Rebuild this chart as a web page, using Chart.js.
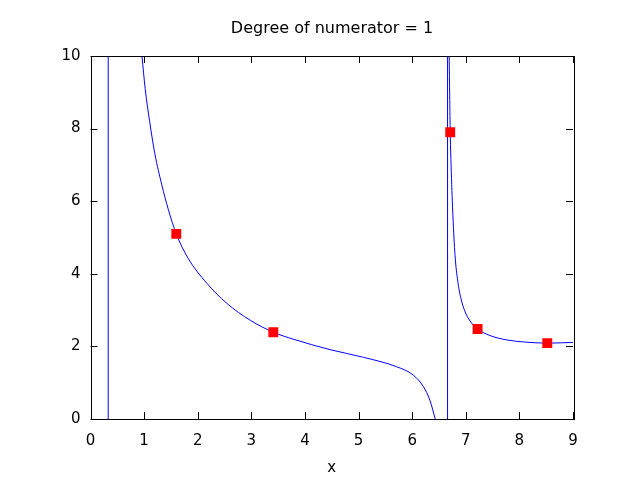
<!DOCTYPE html>
<html>
<head>
<meta charset="utf-8">
<script src="https://cdn.jsdelivr.net/npm/chart.js@4"></script>
<style>
    html, body { margin: 0; padding: 0; background: #fff; }
    #wrap { width: 640px; height: 480px; }
</style>
</head>
<body>
<div id="wrap"><canvas id="plot" width="640" height="480"></canvas></div>
<script>
//Data
//branch between the two poles
let leftX = [0.96, 1.02, 1.10, 1.20, 1.33, 1.45, 1.60, 1.82, 2.17, 2.54, 2.98, 3.41, 3.78, 4.47, 5.09, 5.71, 6.02, 6.21, 6.33, 6.43];
let leftY = [10, 9.1, 8.23, 7.31, 6.45, 5.78, 5.1, 4.43, 3.74, 3.19, 2.72, 2.39, 2.20, 1.91, 1.70, 1.44, 1.21, 0.89, 0.52, 0];
//branch right of the second pole
let rightX = [6.69, 6.70, 6.71, 6.73, 6.76, 6.80, 6.85, 6.91, 6.98, 7.08, 7.22, 7.45, 7.76, 8.10, 8.52, 9.0];
let rightY = [10, 8.9, 7.9, 6.8, 5.6, 4.5, 3.8, 3.32, 2.98, 2.70, 2.48, 2.30, 2.18, 2.12, 2.09, 2.11];
//jumps across the poles
let poleX = [0.33, 6.66];
let poleY = [0, 10];
//interpolated points (red squares)
let markX = [1.6, 3.41, 6.71, 7.22, 8.52];
let markY = [5.10, 2.39, 7.90, 2.48, 2.09];
//ticks
let xTicks = [0, 1, 2, 3, 4, 5, 6, 7, 8, 9];
let yTicks = [0, 2, 4, 6, 8, 10];

const FONT = 'DejaVu Sans';
const BLUE = '#0000ff';
const RED = '#ff0000';

function pairs(xs, ys) {
    return xs.map((x, i) => ({x: x, y: ys[i]}));
}

function polePoints() {
    let pts = [];
    poleX.forEach((x, i) => {
        if (i > 0) pts.push({x: x, y: null});
        poleY.forEach(y => pts.push({x: x, y: y}));
    });
    return pts;
}

//gnuplot style frame with inward ticks on all four sides
const frame = {
    id: 'frame',
    afterDraw(chart) {
        const {ctx, chartArea: a, scales} = chart;
        const len = 7;
        ctx.save();
        ctx.strokeStyle = '#000';
        ctx.lineWidth = 1;
        ctx.beginPath();
        xTicks.forEach(v => {
            let px = Math.round(scales.x.getPixelForValue(v)) + 0.5;
            ctx.moveTo(px, a.bottom); ctx.lineTo(px, a.bottom - len);
            ctx.moveTo(px, a.top); ctx.lineTo(px, a.top + len);
        });
        yTicks.forEach(v => {
            let py = Math.round(scales.y.getPixelForValue(v)) + 0.5;
            ctx.moveTo(a.left, py); ctx.lineTo(a.left + len, py);
            ctx.moveTo(a.right, py); ctx.lineTo(a.right - len, py);
        });
        ctx.stroke();
        ctx.strokeRect(Math.round(a.left) + 0.5, Math.round(a.top) + 0.5,
            Math.round(a.right - a.left), Math.round(a.bottom - a.top));
        ctx.restore();
    }
};

let chart = new Chart(document.getElementById('plot').getContext('2d'), {
    type: 'line',
    data: {
        datasets: [{
            label: 'points',
            data: pairs(markX, markY),
            showLine: false,
            pointStyle: 'rect',
            pointRadius: 7,
            pointBackgroundColor: RED,
            pointBorderColor: RED,
            pointBorderWidth: 0
        }, {
            label: 'left branch',
            data: pairs(leftX, leftY),
            borderColor: BLUE,
            borderWidth: 1,
            pointRadius: 0,
            cubicInterpolationMode: 'monotone'
        }, {
            label: 'right branch',
            data: pairs(rightX, rightY),
            borderColor: BLUE,
            borderWidth: 1,
            pointRadius: 0,
            cubicInterpolationMode: 'monotone'
        }, {
            label: 'poles',
            data: polePoints(),
            borderColor: BLUE,
            borderWidth: 1,
            pointRadius: 0,
            tension: 0,
            spanGaps: false
        }]
    },
    options: {
        responsive: false,
        animation: false,
        events: [],
        //left padding + empty right axis keep the title centred over the plot
        layout: {padding: {left: 24, right: 0, top: 0, bottom: 0}},
        plugins: {
            legend: {display: false},
            tooltip: {enabled: false},
            title: {
                display: true,
                text: 'Degree of numerator = 1',
                color: '#000',
                font: {family: FONT, size: 16, weight: 'normal'},
                padding: {top: 18.9, bottom: 17.9}
            }
        },
        scales: {
            x: {
                type: 'linear',
                min: 0,
                max: 9,
                afterFit: s => { s.height = 61; },
                afterBuildTicks: s => { s.ticks = xTicks.map(v => ({value: v})); },
                grid: {display: false, drawTicks: false},
                border: {display: false},
                ticks: {color: '#000', padding: 13, maxRotation: 0, font: {family: FONT, size: 15}},
                title: {display: true, text: 'x', color: '#000', padding: {top: 0, bottom: 3}, font: {family: FONT, size: 15}}
            },
            y: {
                type: 'linear',
                min: 0,
                max: 10,
                afterFit: s => { s.width = 66.5; },
                afterBuildTicks: s => { s.ticks = yTicks.map(v => ({value: v})); },
                grid: {display: false, drawTicks: false},
                border: {display: false},
                ticks: {color: '#000', padding: 10, font: {family: FONT, size: 15}}
            },
            yRight: {
                type: 'linear',
                position: 'right',
                min: 0,
                max: 10,
                afterFit: s => { s.width = 67; },
                grid: {display: false, drawTicks: false},
                border: {display: false},
                ticks: {display: false}
            }
        }
    },
    plugins: [frame]
});
</script>
</body>
</html>
